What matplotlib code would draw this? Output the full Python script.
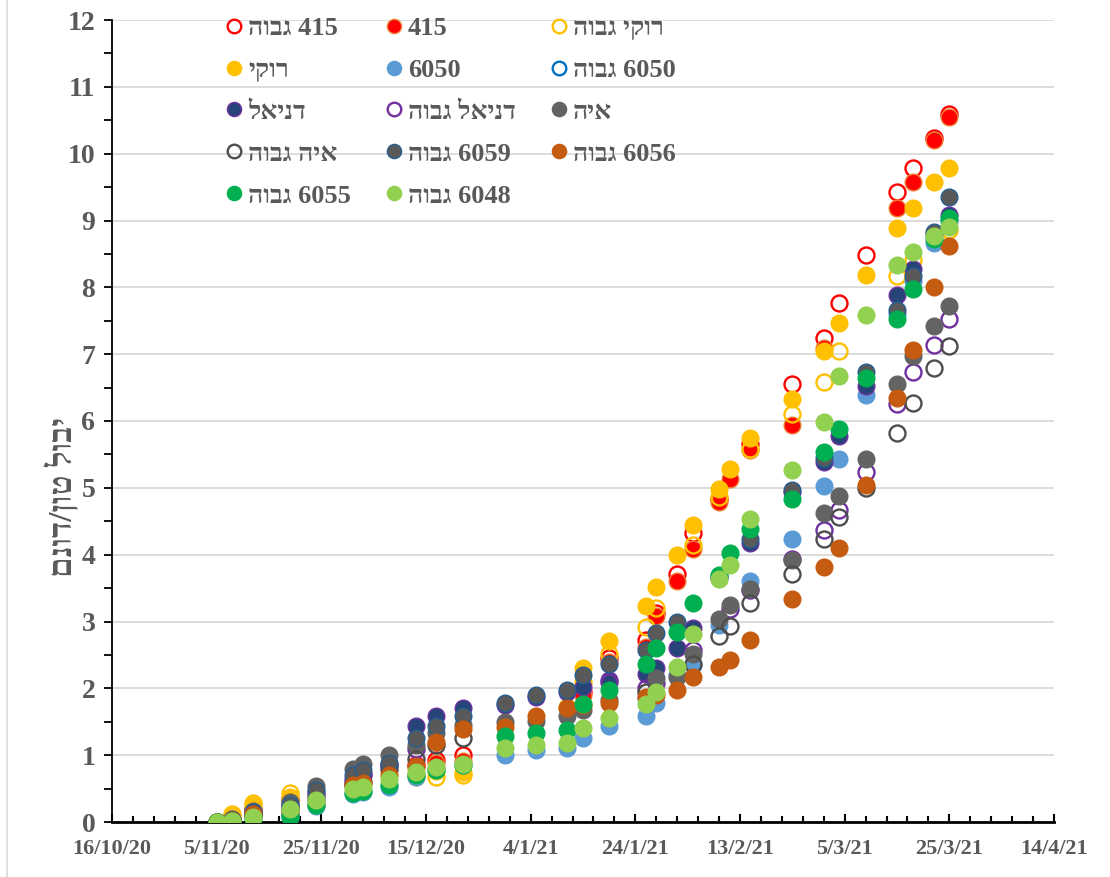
import numpy as np
import pandas as pd
import matplotlib
matplotlib.use('Agg')
import matplotlib.pyplot as plt
from matplotlib.ticker import MultipleLocator, FixedLocator, FuncFormatter
from matplotlib.lines import Line2D

nan = np.nan

# תאריכי מדידה
dates = pd.to_datetime([
    '05/11/2020', '08/11/2020', '12/11/2020', '19/11/2020', '24/11/2020',
    '01/12/2020', '03/12/2020', '08/12/2020', '13/12/2020', '17/12/2020',
    '22/12/2020', '30/12/2020', '05/01/2021', '11/01/2021', '14/01/2021',
    '19/01/2021', '26/01/2021', '28/01/2021', '01/02/2021', '04/02/2021',
    '09/02/2021', '11/02/2021', '15/02/2021', '23/02/2021', '01/03/2021',
    '04/03/2021', '09/03/2021', '15/03/2021', '18/03/2021', '22/03/2021',
    '25/03/2021'], format='%d/%m/%Y')

# יבול מצטבר (טון/דונם) לכל זן
y_415_high = [0, 0.05, 0.20, 0.35, nan, nan, nan, nan, 0.85, 0.93, 1.00, nan, nan, nan, 1.95, 2.45,
              2.72, 3.13, 3.71, 4.32, 4.84, nan, 5.65, 6.55, 7.24, 7.77, 8.49, 9.42, 9.79, 10.24, 10.60]
y_415 = [0, 0.05, 0.20, 0.32, nan, nan, nan, nan, 0.82, 0.88, 0.92, nan, nan, nan, 1.90, 2.40,
         2.62, 3.08, 3.60, 4.09, 4.79, 5.13, 5.57, 5.94, 7.09, nan, nan, 9.18, 9.58, 10.20, 10.55]
y_rocky_high = [0, 0.12, 0.28, 0.43, nan, nan, nan, nan, 0.70, 0.68, 0.70, nan, nan, nan, 2.10, 2.51,
                2.92, 3.20, nan, 4.14, 4.86, nan, 5.58, 6.10, 6.59, 7.04, nan, 8.17, 8.41, nan, 8.86]
y_rocky = [0, 0.10, 0.25, 0.38, nan, nan, nan, nan, 0.68, 0.76, 0.75, nan, nan, 1.72, 2.30, 2.71,
           3.23, 3.52, 4.00, 4.44, 4.99, 5.28, 5.74, 6.33, 7.04, 7.47, 8.18, 8.89, 9.19, 9.57, 9.79]
y_6050 = [0, 0.02, 0.08, 0.07, 0.24, 0.42, 0.45, 0.53, 0.68, 0.80, 0.85, 1.00, 1.07, 1.10, 1.25, 1.43,
          1.58, 1.78, 2.20, 2.35, 2.95, nan, 3.60, 4.24, 5.02, 5.43, 6.39, 7.60, 8.10, 8.66, 9.00]
y_6050_high = [0, 0.02, 0.10, 0.10, nan, nan, nan, nan, nan, nan, nan, nan, nan, nan, nan, nan,
               nan, nan, nan, nan, nan, nan, nan, nan, nan, nan, nan, nan, nan, nan, nan]
y_daniel = [0, 0.03, 0.14, 0.25, 0.45, 0.65, 0.72, 0.85, 1.44, 1.59, 1.70, 1.75, 1.87, 1.95, 2.02, 2.13,
            2.22, 2.30, 2.60, 2.91, 3.65, nan, 4.18, 4.94, 5.39, 5.77, 6.52, 7.89, 8.27, 8.80, 9.08]
y_daniel_high = [0, 0.03, 0.12, 0.22, 0.40, 0.60, 0.70, 0.85, 1.09, nan, nan, nan, nan, nan, nan, 2.10,
                 2.00, 2.08, nan, 2.58, nan, 3.18, 3.47, 3.93, 4.37, 4.67, 5.23, 6.25, 6.74, 7.13, 7.52]
y_aya = [0, 0.03, 0.17, 0.30, 0.54, 0.80, 0.87, 1.00, 1.15, 1.33, 1.45, 1.49, 1.51, 1.58, 1.68, 1.82,
         1.85, 2.15, 2.17, 2.52, 3.03, 3.25, 3.49, 3.92, 4.62, 4.88, 5.43, 6.55, 6.97, 7.42, 7.72]
y_aya_high = [0, 0.02, 0.10, 0.20, 0.35, 0.55, 0.60, 0.80, 0.95, 1.15, 1.25, nan, nan, nan, nan, nan,
              1.95, nan, nan, 2.37, 2.78, 2.93, 3.27, 3.71, 4.23, 4.56, 5.00, 5.82, 6.27, 6.79, 7.12]
y_6059_high = [0, 0.04, 0.15, 0.26, 0.48, 0.70, 0.78, 0.89, 1.25, 1.44, 1.58, 1.78, 1.90, 1.98, 2.20, 2.37,
               2.58, 2.83, 2.99, nan, 3.68, nan, 4.23, 4.97, 5.45, nan, 6.74, 7.66, 8.17, 8.83, 9.35]
y_6056_high = [0, 0.03, 0.12, 0.15, 0.27, 0.55, 0.59, 0.70, 0.84, 1.20, 1.39, 1.42, 1.58, 1.70, 1.75, 1.78,
               1.87, 1.90, 1.98, 2.17, 2.32, 2.43, 2.72, 3.33, 3.82, 4.10, 5.04, 6.34, 7.06, 8.00, 8.62]
y_6055_high = [0, 0.02, 0.05, 0.08, 0.25, 0.44, 0.47, 0.55, 0.70, 0.78, 0.85, 1.28, 1.33, 1.38, 1.77, 1.98,
               2.36, 2.60, 2.85, 3.28, 3.70, 4.03, 4.39, 4.84, 5.53, 5.88, 6.64, 7.52, 7.97, 8.72, 9.03]
y_6048_high = [0, 0.02, 0.08, 0.19, 0.33, 0.50, 0.53, 0.65, 0.75, 0.82, 0.87, 1.10, 1.15, 1.18, 1.40, 1.55,
               1.77, 1.95, 2.32, 2.82, 3.63, 3.84, 4.53, 5.26, 5.98, 6.67, 7.59, 8.34, 8.53, 8.77, 8.91]

labels = ['415 גבוה', '415', 'רוקי גבוה', 'רוקי', '6050', '6050 גבוה', 'דניאל',
          'דניאל גבוה', 'איה', 'איה גבוה', '6059 גבוה', '6056 גבוה', '6055 גבוה', '6048 גבוה']
values = [y_415_high, y_415, y_rocky_high, y_rocky, y_6050, y_6050_high, y_daniel,
          y_daniel_high, y_aya, y_aya_high, y_6059_high, y_6056_high, y_6055_high, y_6048_high]

# (מילוי, קו מתאר) - None = עיגול ריק
styles = [(None, '#FF0000'), ('#FF0000', '#ED7D31'), (None, '#FFC000'), ('#FFC000', '#FFC000'),
          ('#5B9BD5', '#5B9BD5'), (None, '#0070C0'), ('#264478', '#7030A0'), (None, '#7030A0'),
          ('#636363', '#636363'), (None, '#4D4D4D'), ('#595959', '#255E91'), ('#C55A11', '#C55A11'),
          ('#00B050', '#00B050'), ('#92D050', '#92D050')]


def rtl(s):
    # matplotlib לא הופך טקסט עברי - סדר תצוגה ידני
    words = s.split(' ')
    out = []
    for w in reversed(words):
        if any('\u0590' <= c <= '\u05ff' for c in w):
            out.append(w[::-1])
        else:
            out.append(w)
    return ' '.join(out)


serif = ['Liberation Serif', 'DejaVu Serif']
gray = '#595959'

fig = plt.figure(figsize=(11.1, 8.77), dpi=100)
ax = fig.add_axes([112 / 1110, 1 - 822 / 877, (1054 - 112) / 1110, (822 - 20) / 877])

for vals, lab, (fc, ec) in zip(values, labels, styles):
    if fc is None:
        ax.plot(dates, vals, linestyle='none', marker='o', ms=11.5, mfc='none', mec=ec, mew=1.7,
                label=rtl(lab), zorder=3)
    else:
        ax.plot(dates, vals, linestyle='none', marker='o', ms=12, mfc=fc, mec=ec, mew=1.0,
                label=rtl(lab), zorder=3)

x0 = pd.Timestamp('2020-10-16')
x1 = pd.Timestamp('2021-04-14')
ax.set_xlim(x0, x1)
ax.set_ylim(0, 12)

major_x = pd.date_range(x0, x1, freq='20D')
minor_x = pd.date_range(x0, x1, freq='4D')
ax.xaxis.set_major_locator(FixedLocator(matplotlib.dates.date2num(major_x)))
ax.xaxis.set_minor_locator(FixedLocator(matplotlib.dates.date2num(minor_x)))
ax.xaxis.set_major_formatter(FuncFormatter(
    lambda v, p: (lambda d: f'{d.day}/{d.month}/{d.year % 100}')(matplotlib.dates.num2date(v))))
ax.yaxis.set_major_locator(MultipleLocator(1))
ax.yaxis.set_minor_locator(MultipleLocator(0.5))

ax.grid(axis='y', which='major', color='#D9D9D9', linewidth=1.3, zorder=0)
ax.set_axisbelow(True)

for s in ['top', 'right']:
    ax.spines[s].set_visible(False)
ax.spines['bottom'].set_linewidth(2.0)
ax.spines['bottom'].set_color('black')
ax.spines['left'].set_linewidth(1.3)
ax.spines['left'].set_color('black')

ax.tick_params(axis='x', which='major', direction='in', length=6, width=1.5, pad=12,
               labelsize=16, labelcolor=gray)
ax.tick_params(axis='x', which='minor', direction='in', length=4, width=1.5)
ax.tick_params(axis='y', which='both', direction='out', length=6, width=1.3, pad=6,
               labelsize=20, labelcolor=gray)
for t in ax.get_xticklabels() + ax.get_yticklabels():
    t.set_fontfamily(serif)
    t.set_fontweight('bold')

fig.text(62 / 1110, 1 - 497 / 877, rtl('יבול טון/דונם'), rotation=90, ha='center', va='center',
         fontsize=24, fontweight='bold', color=gray, family=serif)

# מקרא בשלוש עמודות, שורה אחר שורה
handles, labs = ax.get_legend_handles_labels()
order = [0, 3, 6, 9, 12, 1, 4, 7, 10, 13, 2, 5, 8, 11]
leg = ax.legend([handles[i] for i in order], [labs[i] for i in order], ncol=3, frameon=False,
                loc='upper left', bbox_to_anchor=((210 - 112) / 942, 1.021), borderpad=0,
                handlelength=0.8, handletextpad=0.14, columnspacing=1.22, labelspacing=0.70,
                markerscale=0.85, prop={'family': serif, 'weight': 'bold', 'size': 19})
for t in leg.get_texts():
    t.set_color(gray)

fig.add_artist(Line2D([7 / 1110, 7 / 1110], [0, 1], transform=fig.transFigure, color='#D9D9D9', lw=1.2))

fig.savefig('out.png', dpi=100)
